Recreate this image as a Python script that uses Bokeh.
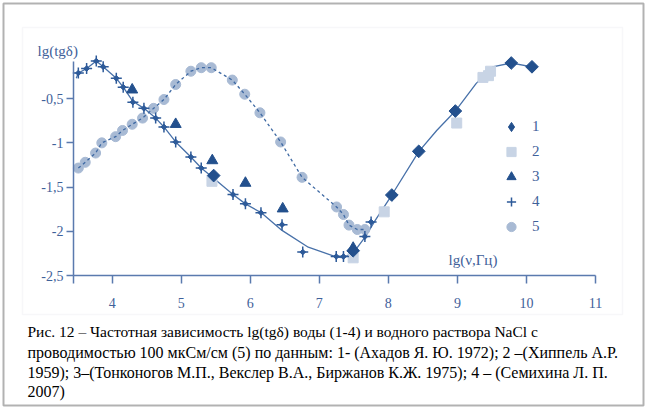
from bokeh.plotting import figure
from bokeh.models import (Range1d, FixedTicker, Label, Legend, LegendItem, BoxAnnotation,
                          ColumnDataSource, CDSView, IndexFilter)
from bokeh.embed import file_html
from bokeh.resources import INLINE

# ---------------- data ----------------
# 1 - Ахадов 1972 (diamonds)
s1_x = [5.47, 7.49, 8.05, 8.44, 8.97, 9.78, 10.08]
s1_y = [-1.37, -2.22, -1.59, -1.096, -0.64, -0.097, -0.14]
# 2 - Хиппель 1959 (light squares)
s2_x = [5.445, 7.49, 7.94, 8.99, 9.37, 9.45, 9.48]
s2_y = [-1.435, -2.30, -1.78, -0.776, -0.26, -0.24, -0.19]
# 3 - Тонконогов и др. 1975 (triangles)
s3_x = [4.29, 4.92, 5.45, 5.93, 6.47, 7.49]
s3_y = [-0.40, -0.79, -1.20, -1.455, -1.745, -2.19]
# 4 - Семихина 2007 (stars)
s4_x = [3.51, 3.63, 3.77, 3.87, 4.06, 4.16, 4.30, 4.46, 4.63, 4.75, 4.92, 5.14,
        5.29, 5.75, 5.93, 6.155, 6.46, 6.76, 7.245, 7.35, 7.66, 7.75]
s4_y = [-0.21, -0.16, -0.075, -0.14, -0.27, -0.37, -0.54, -0.61, -0.72, -0.82, -0.99, -1.16,
        -1.285, -1.585, -1.69, -1.79, -1.925, -2.235, -2.285, -2.285, -2.06, -1.895]
# 5 - NaCl solution 100 мкСм/см (circles, dashed line)
s5_x = [3.51, 3.61, 3.76, 3.85, 4.05, 4.15, 4.29, 4.44, 4.60, 4.75, 4.92, 5.14,
        5.29, 5.435, 5.74, 5.92, 6.14, 6.44, 6.75, 7.25, 7.35, 7.43, 7.55, 7.66]
s5_y = [-1.285, -1.22, -1.115, -1.0, -0.93, -0.86, -0.79, -0.72, -0.61, -0.51, -0.34, -0.19,
        -0.15, -0.15, -0.29, -0.45, -0.66, -0.99, -1.39, -1.725, -1.81, -1.93, -1.98, -1.98]
# solid trend curve for water
fit_x = [3.48, 3.51, 3.63, 3.77, 3.87, 4.06, 4.16, 4.30, 4.46, 4.63, 4.75, 4.92, 5.14,
         5.29, 5.47, 5.75, 5.93, 6.16, 6.46, 6.84, 7.245, 7.35, 7.50, 7.66, 7.81, 8.05,
         8.44, 8.70, 8.97, 9.27, 9.51, 9.78, 10.08]
fit_y = [-0.27, -0.21, -0.16, -0.075, -0.14, -0.27, -0.37, -0.53, -0.61, -0.72, -0.82, -0.99, -1.16,
         -1.285, -1.40, -1.585, -1.69, -1.79, -1.99, -2.18, -2.29, -2.30, -2.235, -2.07, -1.877, -1.59,
         -1.10, -0.86, -0.64, -0.33, -0.14, -0.097, -0.14]

x_ticks = [4, 5, 6, 7, 8, 9, 10, 11]
y_ticks = [-2.5, -2.0, -1.5, -1.0, -0.5]
y_tick_labels = ["-2,5", "-2", "-1,5", "-1", "-0,5"]
legend_labels = ["1", "2", "3", "4", "5"]

y_axis_title = "lg(tgδ)"
x_axis_title = "lg(ν,Гц)"
caption_lines = [
    "Рис. 12 – Частотная зависимость lg(tgδ)  воды (1-4) и водного раствора  NaCl  с",
    "проводимостью 100 мкСм/см (5) по данным: 1- (Ахадов Я. Ю. 1972); 2 –(Хиппель А.Р.",
    "1959); 3–(Тонконогов М.П., Векслер В.А., Биржанов К.Ж. 1975); 4 – (Семихина Л. П.",
    "2007)",
]

# ---------------- layout (pixel geometry of the page) ----------------
W, H = 646, 408
AX0, AX1 = 3.44, 11.0          # x-axis extent (data)
AY0, AY1 = -2.5, -0.08         # y-axis extent (data)
PL, PR, PT, PB = 73, 595, 61, 275   # where the axes sit on the page (px)


def X(px):
    return AX0 + (px - PL) * (AX1 - AX0) / (PR - PL)


def Y(py):
    return AY1 - (py - PT) * (AY1 - AY0) / (PB - PT)


p = figure(width=W, height=H, x_range=Range1d(X(0), X(W)), y_range=Range1d(Y(H), Y(0)),
           output_backend="svg", toolbar_location=None,
           min_border_left=0, min_border_right=0, min_border_top=0, min_border_bottom=0)
p.background_fill_color = "white"
p.border_fill_color = "white"
p.outline_line_color = None
p.xgrid.visible = False
p.ygrid.visible = False

AXC = "#5A7AAE"
TXT = "#3F619A"
FONT = "Liberation Serif"

for ax in (p.xaxis[0], p.yaxis[0]):
    ax.axis_line_color = AXC
    ax.axis_line_width = 1.5
    ax.major_tick_line_color = AXC
    ax.major_tick_line_width = 1.5
    ax.minor_tick_line_color = None
    ax.major_tick_in = 0
    ax.major_label_text_font = FONT
    ax.major_label_text_font_size = "14px"
    ax.major_label_text_color = TXT

p.xaxis.fixed_location = AY0
p.xaxis.bounds = (AX0, AX1)
p.xaxis.ticker = FixedTicker(ticks=[AX0] + x_ticks)
p.xaxis.major_label_overrides = {AX0: ""}
p.xaxis.major_tick_out = 8
p.xaxis.major_label_standoff = 14
p.yaxis.fixed_location = AX0
p.yaxis.bounds = (AY0, AY1)
p.yaxis.ticker = FixedTicker(ticks=y_ticks)
p.yaxis.major_label_overrides = dict(zip(y_ticks, y_tick_labels))
p.yaxis.major_tick_out = 7
p.yaxis.major_label_standoff = 3

# borders: outer black frame and inner light frame
p.add_layout(BoxAnnotation(left=X(3), right=X(643), top=Y(3), bottom=Y(405),
                           fill_alpha=0, line_color="#000000", line_width=2))
p.add_layout(BoxAnnotation(left=X(22), right=X(622), top=Y(27), bottom=Y(314),
                           fill_alpha=0, line_color="#E3E5EB", line_width=1.5))

DARK = "#23508D"
STAR = "#2D5A99"
p.line(fit_x, fit_y, line_color="#4871A9", line_width=1.3)
r5 = p.scatter(s5_x, s5_y, marker="circle", size=10, fill_color="#A8BAD4", line_color="#A8BAD4")
p.line(s5_x, s5_y, line_color="#3E69A3", line_width=1.3, line_dash="3 3")

r2 = p.scatter(s2_x, s2_y, marker="square", size=10, fill_color="#C8D4E5", line_color="#C8D4E5")
r3 = p.scatter(s3_x, s3_y, marker="triangle", size=11, fill_color=DARK, line_color=DARK)
r4a = p.scatter(s4_x, s4_y, marker="cross", size=11, line_color=STAR, line_width=1.5)
p.scatter(s4_x, s4_y, marker="square", angle=0.785, size=4, fill_color=STAR, line_color=STAR)

# series 1: a plain diamond (used for the legend swatch, hidden under the first point)
src1 = ColumnDataSource(dict(x=s1_x, y=s1_y))
r1_leg = p.scatter("x", "y", source=src1, view=CDSView(filter=IndexFilter([0])),
                   marker="diamond", size=8, fill_color=DARK, line_color=DARK)
p.scatter("x", "y", source=src1, marker="square", angle=0.785, size=9,
          fill_color=DARK, line_color=DARK)

legend = Legend(items=[LegendItem(label=legend_labels[0], renderers=[r1_leg]),
                       LegendItem(label=legend_labels[1], renderers=[r2]),
                       LegendItem(label=legend_labels[2], renderers=[r3]),
                       LegendItem(label=legend_labels[3], renderers=[r4a]),
                       LegendItem(label=legend_labels[4], renderers=[r5])],
                location=(499, H - 238), orientation="vertical",
                glyph_width=24, glyph_height=23, label_height=23, spacing=2,
                padding=0, margin=0, label_standoff=9,
                border_line_alpha=0, background_fill_alpha=0,
                label_text_font=FONT, label_text_font_size="15px", label_text_color=TXT)
p.add_layout(legend)

p.add_layout(Label(x=X(37), y=Y(50), text=y_axis_title, text_font=FONT,
                   text_font_size="15px", text_color=TXT, text_baseline="middle"))
p.add_layout(Label(x=X(448), y=Y(259), text=x_axis_title, text_font=FONT,
                   text_font_size="15px", text_color=TXT, text_baseline="middle"))

cap_y = [331, 352, 372, 391]
cap_size = ["15.5px", "16px", "16px", "16px"]
for t, yy, fs in zip(caption_lines, cap_y, cap_size):
    p.add_layout(Label(x=X(27), y=Y(yy), text=t, text_font=FONT,
                       text_font_size=fs, text_color="#000000", text_baseline="middle"))

open("out.html", "w").write(file_html(p, INLINE))
